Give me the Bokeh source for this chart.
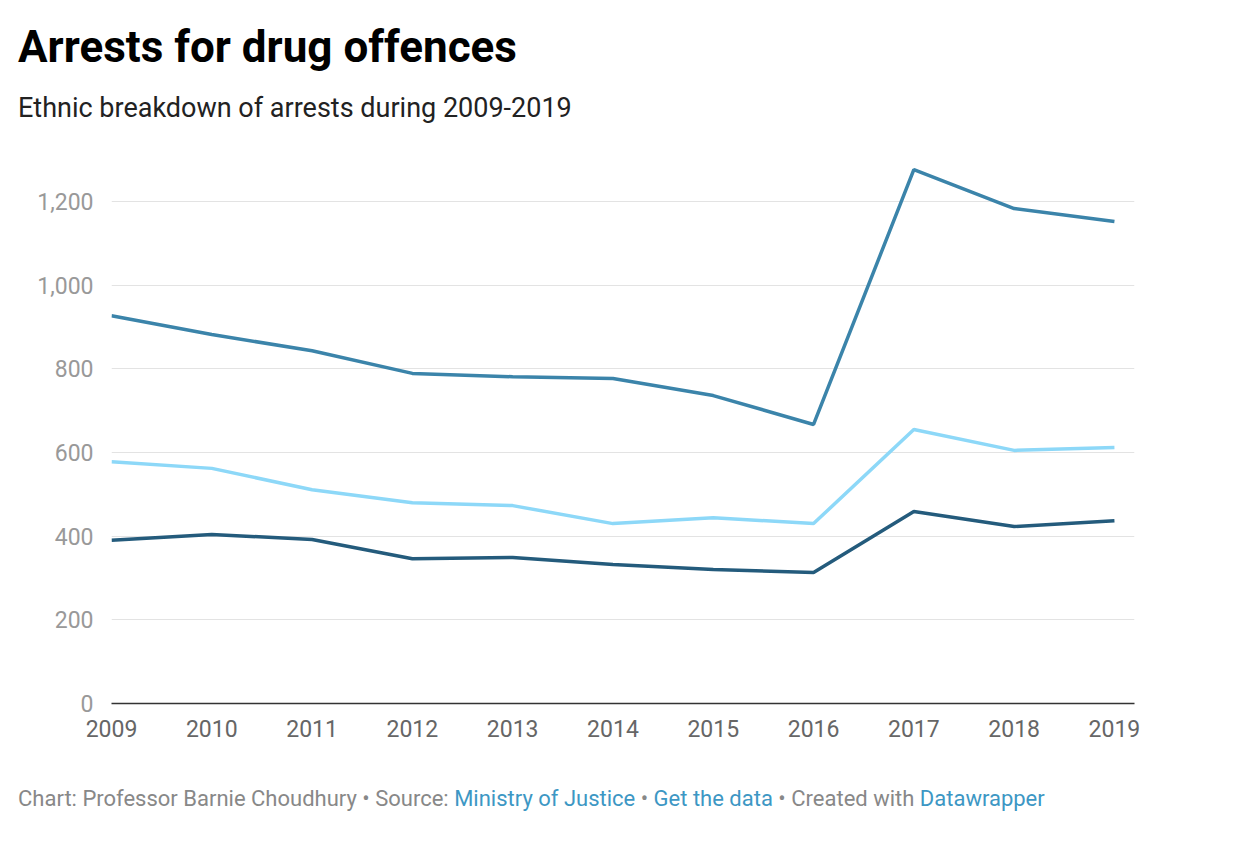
from bokeh.core.properties import value
from bokeh.embed import file_html
from bokeh.layouts import column
from bokeh.models import Div, FixedTicker, Label, NumeralTickFormatter, Range1d
from bokeh.plotting import figure
from bokeh.resources import INLINE

years = list(range(2009, 2020))
white = [927, 882, 843, 789, 781, 777, 736, 667, 1276, 1183, 1152]
black = [578, 562, 511, 480, 473, 430, 444, 430, 655, 605, 612]
asian = [390, 404, 392, 346, 349, 332, 320, 313, 459, 423, 437]
series = [("White", white, "#3b84aa"), ("Black", black, "#8dd8f8"), ("Asian", asian, "#245b7c")]

FONT = "Roboto"

title = Div(text="Arrests for drug offences", width=1200,
            styles={"font-family": FONT, "font-size": "44px", "font-weight": "bold", "color": "#000"},
            margin=(16, 0, 0, 18))
subtitle = Div(text="Ethnic breakdown of arrests during 2009-2019", width=1200,
               styles={"font-family": FONT, "font-size": "27px", "color": "#222"},
               margin=(10, 0, 0, 18))

p = figure(width=1229, height=626, output_backend="svg", toolbar_location=None,
           x_range=Range1d(2009, 2019.2), y_range=Range1d(0, 1317),
           min_border_left=111, min_border_right=95, min_border_top=25, min_border_bottom=50)
p.outline_line_color = None

for name, vals, col in series:
    p.line(years, vals, line_width=3.5, color=col)
    p.add_layout(Label(x=years[-1], y=vals[-1], text=name, x_offset=22, y_offset=-11,
                       text_font=FONT, text_font_size="22px", text_color="#111"))

p.yaxis.ticker = FixedTicker(ticks=[0, 200, 400, 600, 800, 1000, 1200])
p.yaxis.formatter = NumeralTickFormatter(format="0,0")
p.yaxis.axis_line_color = None
p.yaxis.major_tick_line_color = None
p.yaxis.minor_tick_line_color = None
p.yaxis.major_label_text_color = "#999999"
p.yaxis.major_label_text_font = FONT
p.yaxis.major_label_text_font_size = "23px"
p.yaxis.major_label_standoff = 12

p.xaxis.ticker = FixedTicker(ticks=years)
p.xaxis.axis_line_color = "#333333"
p.xaxis.axis_line_width = 1.5
p.xaxis.major_tick_line_color = None
p.xaxis.minor_tick_line_color = None
p.xaxis.major_label_text_color = "#666666"
p.xaxis.major_label_text_font = FONT
p.xaxis.major_label_text_font_size = "23px"
p.xaxis.major_label_standoff = 10

p.xgrid.grid_line_color = None
p.ygrid.grid_line_color = "#e3e3e3"
p.ygrid.ticker = FixedTicker(ticks=[200, 400, 600, 800, 1000, 1200])

link = "color:#3d97c4"
footer = Div(text=("Chart: Professor Barnie Choudhury \u2022 Source: "
                   f"<span style='{link}'>Ministry of Justice</span> \u2022 "
                   f"<span style='{link}'>Get the data</span> \u2022 Created with "
                   f"<span style='{link}'>Datawrapper</span>"),
             width=1200, styles={"font-family": FONT, "font-size": "22px", "color": "#888"},
             margin=(30, 0, 0, 18))

layout = column(title, subtitle, p, footer)
open("out.html", "w").write(file_html(layout, INLINE))
